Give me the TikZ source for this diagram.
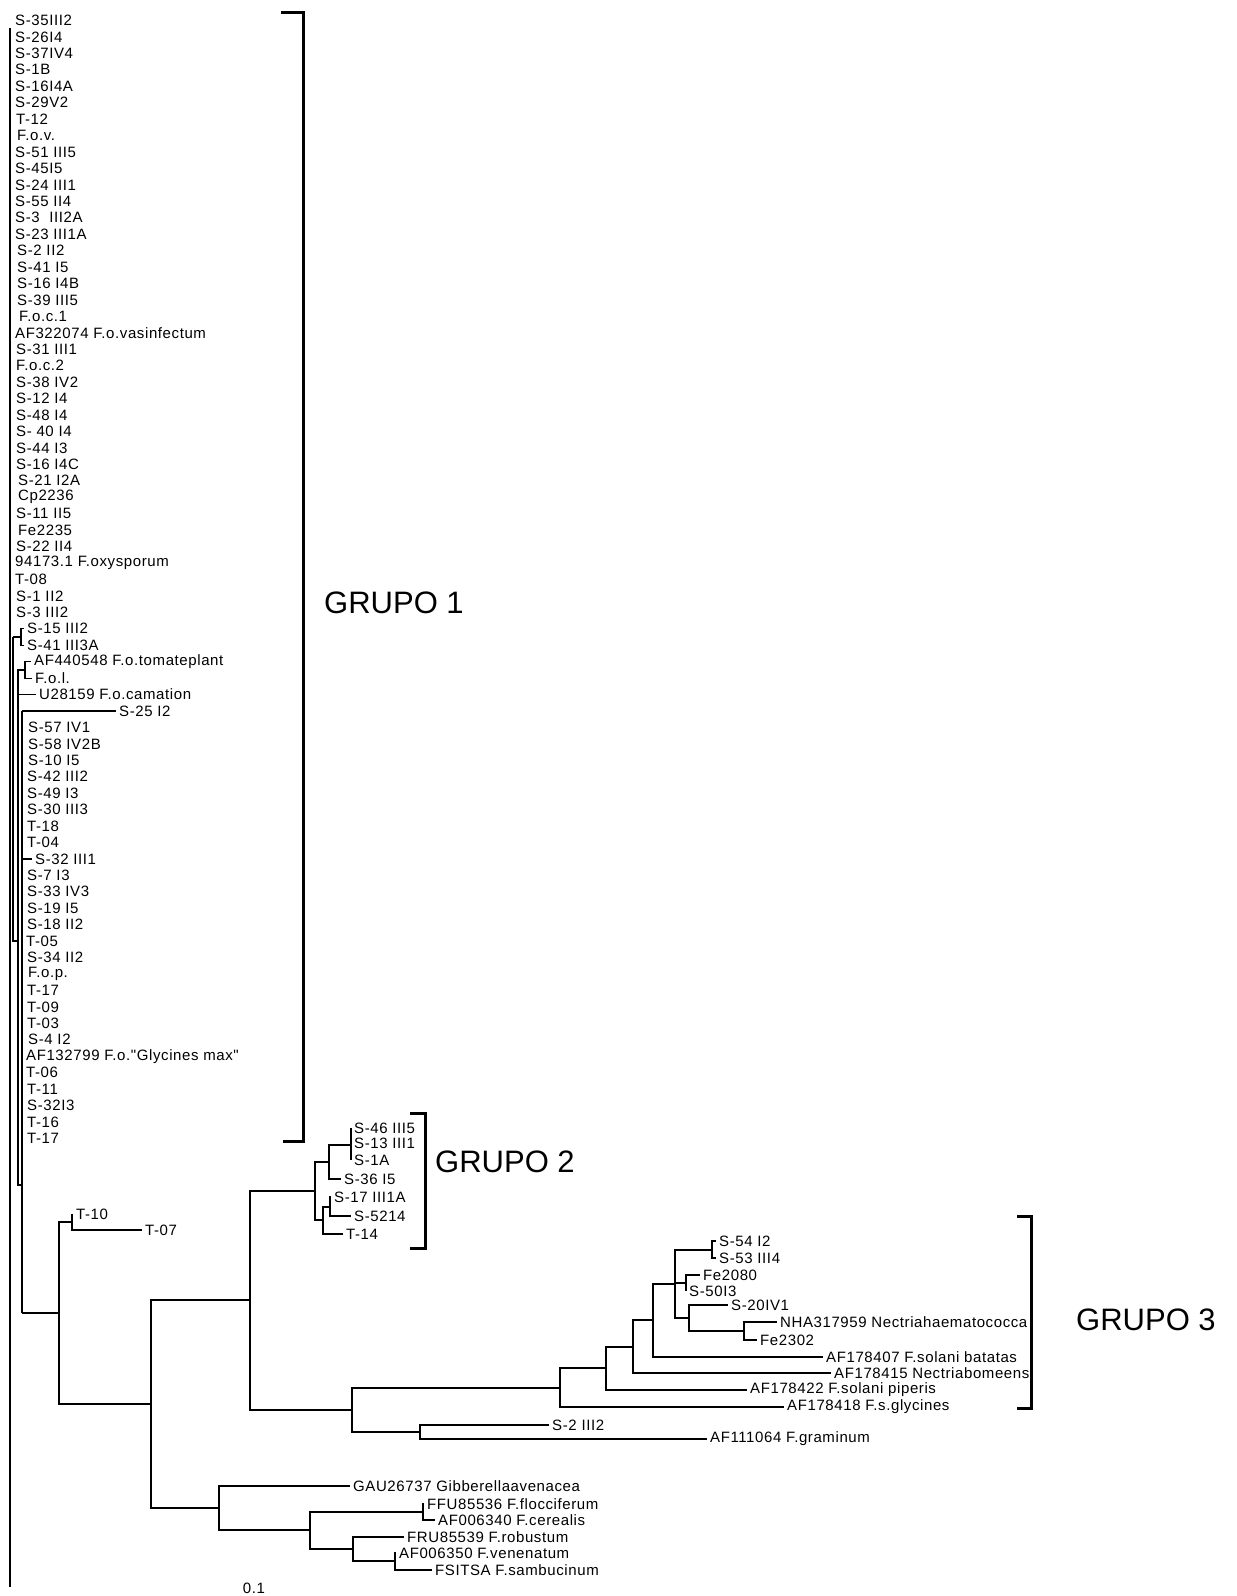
\documentclass[tikz,border=0pt]{standalone}
\usepackage{fontspec}
\setmainfont{Liberation Sans}
\newfontfamily\labfont[LetterSpace=4]{Liberation Sans}

\begin{document}
\begin{tikzpicture}[x=1pt,y=-1pt,
  leaf/.style={anchor=west,inner xsep=3pt,inner ysep=1pt,font=\labfont\fontsize{15}{15}\selectfont},
  grp/.style={anchor=west,inner sep=0pt,font=\fontsize{31}{31}\selectfont},
  br/.style={line width=1.2pt},
  bracket/.style={line width=3pt}]
\useasboundingbox (0,0) rectangle (1237,1596);

\foreach \x/\t [count=\i] in {16/S-35III2,16/S-26I4,16/S-37IV4,16/S-1B,16/S-16I4A,16/S-29V2,17/T-12,18/F.o.v.,16/S-51 III5,16/S-45I5,16/S-24 III1,16/S-55 II4,16/S-3~~III2A,16/S-23 III1A,18/S-2 II2,18/S-41 I5,18/S-16 I4B,18/S-39 III5,20/F.o.c.1,16/AF322074 F.o.vasinfectum,17/S-31 III1,17/F.o.c.2,17/S-38 IV2,17/S-12 I4,17/S-48 I4,17/S- 40 I4,17/S-44 I3,17/S-16 I4C,19/S-21 I2A,19/Cp2236,17/S-11 II5,19/Fe2235,17/S-22 II4,16/94173.1 F.oxysporum,16/T-08,17/S-1 II2,17/S-3 III2}
  \node[leaf] (g\i) at ({\x-4},{20.5+(\i-1)*16.44}) {\t};
\node[leaf] (g38) at (24,628.8) {S-15 III2};
\node[leaf] (g39) at (24,645.2) {S-41 III3A};
\node[leaf] (g40) at (31,661.7) {AF440548 F.o.tomateplant};
\node[leaf] (g41) at (32,678.1) {F.o.l.};
\node[leaf] (g42) at (36,694.5) {U28159 F.o.camation};
\node[leaf] (g43) at (116,711) {S-25 I2};
\foreach \x/\t [count=\i from 44] in {29/S-57 IV1,29/S-58 IV2B,29/S-10 I5,28/S-42 III2,28/S-49 I3,28/S-30 III3,28/T-18,28/T-04,36/S-32 III1,28/S-7 I3,28/S-33 IV3,28/S-19 I5,28/S-18 II2,27/T-05,28/S-34 II2,29/F.o.p.,28/T-17,28/T-09,28/T-03,29/S-4 I2,27/AF132799 F.o."Glycines max",27/T-06,28/T-11,28/S-32I3,28/T-16,28/T-17}
  \node[leaf] (g\i) at ({\x-4},{20.5+(\i-1)*16.44}) {\t};

\coordinate (root) at (10,28);
\coordinate (rootb) at (10,1587);
\coordinate (n1) at (13,637);
\coordinate (n1b) at (13,941);
\coordinate (s15) at (21,637);
\coordinate (nA) at (25,670);
\coordinate (nB) at (18,682);
\coordinate (n2b) at (18,1185);
\coordinate (nC) at (22,711);
\coordinate (nD) at (22,1313);
\draw[br] (root) -- (rootb);
\draw[br] (n1) -- (n1b) -- (n1b -| nB);
\draw[br] (n1) -- (s15);
\draw[br] (s15) |- (g38.west);
\draw[br] (s15) |- (g39.west);
\draw[br] (nA) |- (g40.west);
\draw[br] (nA) |- (g41.west);
\draw[br] (nB) |- (nA);
\draw[br] (nB) |- (g42.west);
\draw[br] (nB) -- (n2b) -- (n2b -| nC);
\draw[br] (nC) -- (g43.west);
\draw[br] (nC) |- (g52.west);
\draw[br] (nC) -- (nD);

\node[leaf] (t10) at (73,1214.5) {T-10};
\node[leaf] (t07) at (142,1230) {T-07};
\coordinate (nT) at (72,1222);
\draw[br] (nT) |- (t10.west);
\draw[br] (nT) |- (t07.west);

\node[leaf] (s46) at (351,1128) {S-46 III5};
\node[leaf] (s13) at (351,1143) {S-13 III1};
\node[leaf] (s1a) at (351,1160) {S-1A};
\node[leaf] (s36) at (341,1179) {S-36 I5};
\node[leaf] (s17) at (331,1197) {S-17 III1A};
\node[leaf] (s5214) at (351,1216) {S-5214};
\node[leaf] (t14) at (343,1234) {T-14};
\coordinate (nE1) at (351,1145);
\coordinate (nE2) at (329,1162);
\coordinate (nF1) at (330,1207);
\coordinate (nF2) at (323,1220);
\coordinate (nG2) at (315,1191);
\draw[br] (nE1) |- (s46.west);
\draw[br] (nE1) |- (s13.west);
\draw[br] (nE1) |- (s1a.west);
\draw[br] (nE2) |- (nE1);
\draw[br] (nE2) |- (s36.west);
\draw[br] (nF1) |- (s17.west);
\draw[br] (nF1) |- (s5214.west);
\draw[br] (nF2) |- (nF1);
\draw[br] (nF2) |- (t14.west);
\draw[br] (nG2) |- (nE2);
\draw[br] (nG2) |- (nF2);

\node[leaf] (s54) at (716,1241) {S-54 I2};
\node[leaf] (s53) at (716,1258) {S-53 III4};
\node[leaf] (fe2080) at (700,1275) {Fe2080};
\node[leaf] (s50) at (686,1291) {S-50I3};
\node[leaf] (s20) at (728,1305) {S-20IV1};
\node[leaf] (nha) at (777,1322) {NHA317959 Nectriahaematococca};
\node[leaf] (fe2302) at (757,1340) {Fe2302};
\node[leaf] (af407) at (823,1357) {AF178407 F.solani batatas};
\node[leaf] (af415) at (831,1373) {AF178415 Nectriabomeens};
\node[leaf] (af422) at (747,1390) {AF178422 F.solani piperis};
\node[leaf] (af418) at (784,1407) {AF178418 F.s.glycines};
\node[leaf] (s2) at (549,1425) {S-2 III2};
\node[leaf] (af111) at (707,1439) {AF111064 F.graminum};
\coordinate (nJ1) at (712,1250);
\coordinate (nJ2) at (686,1283);
\coordinate (nK1) at (744,1331);
\coordinate (nK2) at (689,1318);
\coordinate (nJ3) at (675,1284);
\coordinate (nJ4) at (653,1320);
\coordinate (nJ5) at (633,1347);
\coordinate (nJ6) at (606,1368);
\coordinate (nJ7) at (560,1388);
\coordinate (nL) at (420,1432);
\coordinate (nJ8) at (352,1410);
\coordinate (nH) at (250,1300);
\draw[br] (nJ1) |- (s54.west);
\draw[br] (nJ1) |- (s53.west);
\draw[br] (nJ2) |- (fe2080.west);
\draw[br] (nJ2) |- (s50.west);
\draw[br] (nK1) |- (nha.west);
\draw[br] (nK1) |- (fe2302.west);
\draw[br] (nK2) |- (s20.west);
\draw[br] (nK2) |- (nK1);
\draw[br] (nJ3) |- (nJ1);
\draw[br] (nJ3) |- (nJ2);
\draw[br] (nJ3) |- (nK2);
\draw[br] (nJ4) |- (nJ3);
\draw[br] (nJ4) |- (af407.west);
\draw[br] (nJ5) |- (nJ4);
\draw[br] (nJ5) |- (af415.west);
\draw[br] (nJ6) |- (nJ5);
\draw[br] (nJ6) |- (af422.west);
\draw[br] (nJ7) |- (nJ6);
\draw[br] (nJ7) |- (af418.west);
\draw[br] (nL) |- (s2.west);
\draw[br] (nL) |- (af111.west);
\draw[br] (nJ8) |- (nJ7);
\draw[br] (nJ8) |- (nL);
\draw[br] (nH) |- (nG2);
\draw[br] (nH) |- (nJ8);

\node[leaf] (gau) at (350,1486) {GAU26737 Gibberellaavenacea};
\node[leaf] (ffu) at (424,1504) {FFU85536 F.flocciferum};
\node[leaf] (af340) at (435,1520) {AF006340 F.cerealis};
\node[leaf] (fru) at (404,1537) {FRU85539 F.robustum};
\node[leaf] (af350) at (396,1553) {AF006350 F.venenatum};
\node[leaf] (fsitsa) at (432,1570) {FSITSA F.sambucinum};
\coordinate (nM1) at (395,1561);
\coordinate (nM2) at (353,1549);
\coordinate (nM3) at (423,1512);
\coordinate (nM4) at (310,1530);
\coordinate (nM5) at (219,1508);
\coordinate (nM6) at (151,1404);
\coordinate (nX) at (59,1313);
\draw[br] (nM1) |- (af350.west);
\draw[br] (nM1) |- (fsitsa.west);
\draw[br] (nM2) |- (fru.west);
\draw[br] (nM2) |- (nM1);
\draw[br] (nM3) |- (ffu.west);
\draw[br] (nM3) |- (af340.west);
\draw[br] (nM4) |- (nM3);
\draw[br] (nM4) |- (nM2);
\draw[br] (nM5) |- (gau.west);
\draw[br] (nM5) |- (nM4);
\draw[br] (nM6) |- (nH);
\draw[br] (nM6) |- (nM5);
\draw[br] (nX) |- (nT);
\draw[br] (nX) |- (nM6);
\draw[br] (nD) -- (nX);

\draw[bracket] (281,12) -- (303,12) -- (303,1141) -- (283,1141);
\draw[bracket] (410,1113) -- (425,1113) -- (425,1248) -- (410,1248);
\draw[bracket] (1017,1216) -- (1031,1216) -- (1031,1408) -- (1017,1408);
\node[grp] (grupo1) at (324,603) {GRUPO 1};
\node[grp] (grupo2) at (435,1162) {GRUPO 2};
\node[grp] (grupo3) at (1076,1320) {GRUPO 3};
\node[leaf,anchor=center] (scale) at (254,1588) {0.1};
\end{tikzpicture}
\end{document}
